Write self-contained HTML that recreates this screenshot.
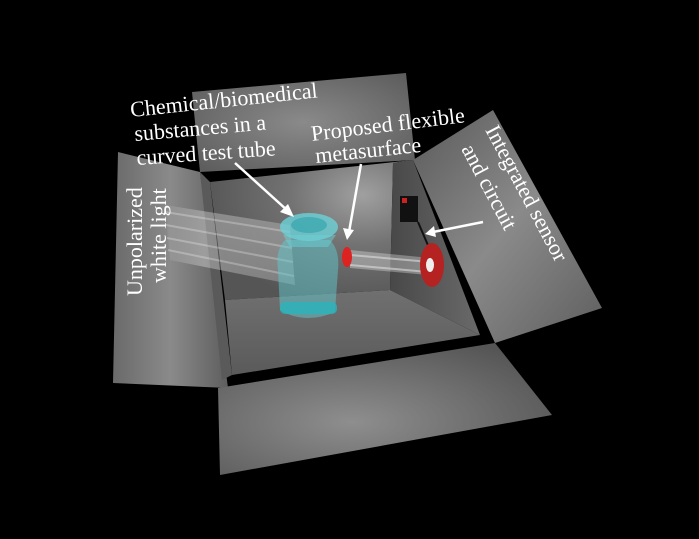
<!DOCTYPE html>
<html><head><style>
html,body{margin:0;padding:0;background:#000;}
svg{display:block}
text{font-family:"Liberation Serif",serif;fill:#fff;}
</style></head><body>
<svg width="699" height="539" viewBox="0 0 699 539" xmlns="http://www.w3.org/2000/svg">
<defs>
<radialGradient id="gTop" cx="0.5" cy="0.5" r="0.7"><stop offset="0" stop-color="#8a8a8a"/><stop offset="1" stop-color="#5a5a5a"/></radialGradient>
<radialGradient id="gBack" cx="0.75" cy="0.25" r="0.8"><stop offset="0" stop-color="#a0a0a0"/><stop offset="0.45" stop-color="#727272"/><stop offset="1" stop-color="#555"/></radialGradient>
<linearGradient id="gLeft" x1="0" y1="0" x2="1" y2="0"><stop offset="0" stop-color="#6a6a6a"/><stop offset="0.5" stop-color="#8a8a8a"/><stop offset="1" stop-color="#5e5e5e"/></linearGradient>
<linearGradient id="gRight" x1="0" y1="0" x2="1" y2="1"><stop offset="0" stop-color="#5a5a5a"/><stop offset="0.5" stop-color="#8a8a8a"/><stop offset="1" stop-color="#5e5e5e"/></linearGradient>
<radialGradient id="gFront" cx="0.4" cy="0.6" r="0.7"><stop offset="0" stop-color="#8e8e8e"/><stop offset="1" stop-color="#555"/></radialGradient>
<linearGradient id="gRW" x1="0" y1="0" x2="1" y2="0"><stop offset="0" stop-color="#484848"/><stop offset="1" stop-color="#6a6a6a"/></linearGradient>
<linearGradient id="gFloor" x1="0" y1="0" x2="0" y2="1"><stop offset="0" stop-color="#707070"/><stop offset="1" stop-color="#5a5a5a"/></linearGradient>
<linearGradient id="beam" x1="0" y1="0" x2="1" y2="0"><stop offset="0" stop-color="#fff" stop-opacity="0.05"/><stop offset="0.3" stop-color="#fff" stop-opacity="0.35"/><stop offset="1" stop-color="#fff" stop-opacity="0.25"/></linearGradient>
</defs>
<rect width="699" height="539" fill="#000"/>
<polygon points="192,92 406,73 415,160 200,172" fill="url(#gTop)"/>
<polygon points="118,152 200,172 228,388 113,383" fill="url(#gLeft)"/>
<polygon points="413,160 493,110 602,308 495,343" fill="url(#gRight)"/>
<polygon points="210,182 413,160 393,163 390,290 225,300" fill="url(#gBack)"/>
<polygon points="393,163 413,160 480,335 390,290" fill="url(#gRW)"/>
<polygon points="225,300 390,290 480,335 232,375" fill="url(#gFloor)"/>
<polygon points="200,172 210,182 232,375 222,380" fill="#5a5a5a"/>
<polygon points="218,388 495,343 552,415 220,475" fill="url(#gFront)"/>
<g opacity="0.9">
<polygon points="165,205 290,225 295,285 170,260" fill="url(#beam)"/>
<line x1="165" y1="212" x2="290" y2="232" stroke="#fff" stroke-opacity="0.3" stroke-width="2"/>
<line x1="166" y1="225" x2="292" y2="248" stroke="#fff" stroke-opacity="0.3" stroke-width="2"/>
<line x1="167" y1="238" x2="293" y2="262" stroke="#fff" stroke-opacity="0.3" stroke-width="2"/>
<line x1="168" y1="250" x2="294" y2="276" stroke="#fff" stroke-opacity="0.3" stroke-width="2"/>
</g>
<polygon points="350,250 430,258 428,275 350,268" fill="#fff" opacity="0.3"/>
<line x1="350" y1="255" x2="430" y2="262" stroke="#ddd" stroke-width="2" opacity="0.6"/>
<line x1="350" y1="265" x2="428" y2="272" stroke="#ddd" stroke-width="2" opacity="0.6"/>
<path d="M285,240 Q275,250 278,270 L280,310 Q305,325 335,312 L338,270 Q340,250 330,240 Z" fill="#5fc7cc" opacity="0.5"/>
<rect x="280" y="302" width="57" height="12" rx="5" fill="#2ab3bd" opacity="0.8"/>
<ellipse cx="309" cy="227" rx="29" ry="14" fill="#6cd2d8" opacity="0.8"/>
<ellipse cx="309" cy="225" rx="18" ry="8" fill="#3fa9b0" opacity="0.8"/>
<path d="M283,235 L290,247 L328,247 L336,235" fill="#6cd2d8" opacity="0.5"/>
<ellipse cx="347" cy="257" rx="5" ry="10" fill="#d22"/>
<rect x="400" y="196" width="18" height="26" fill="#111"/>
<rect x="402" y="198" width="5" height="5" fill="#c22"/>
<line x1="418" y1="222" x2="430" y2="250" stroke="#111" stroke-width="2"/>
<ellipse cx="432" cy="265" rx="12" ry="22" fill="#b52222"/>
<ellipse cx="430" cy="265" rx="4" ry="7" fill="#eee"/>
<g stroke="#fff" stroke-width="2.5" fill="#fff">
<line x1="235" y1="163" x2="288" y2="211"/>
<polygon points="294,217 280,212 288,204" stroke="none"/>
<line x1="361" y1="164" x2="349" y2="232"/>
<polygon points="347,240 343,228 354,230" stroke="none"/>
<line x1="483" y1="222" x2="433" y2="232"/>
<polygon points="425,234 434,226 436,237" stroke="none"/>
</g>
<g font-size="22">
<text transform="translate(131,117) rotate(-6)">Chemical/biomedical</text>
<text transform="translate(135,141) rotate(-5)">substances  in a</text>
<text transform="translate(137,165) rotate(-4)">curved  test tube</text>
<text transform="translate(312,141) rotate(-7)">Proposed  flexible</text>
<text transform="translate(316,163) rotate(-6)">metasurface</text>
<text transform="translate(485,130) rotate(62)">Integrated sensor</text>
<text transform="translate(461,149) rotate(62)">and circuit</text>
<text transform="translate(142,296) rotate(-90)">Unpolarized</text>
<text transform="translate(166,283) rotate(-90)">white light</text>
</g>
</svg>
</body></html>
